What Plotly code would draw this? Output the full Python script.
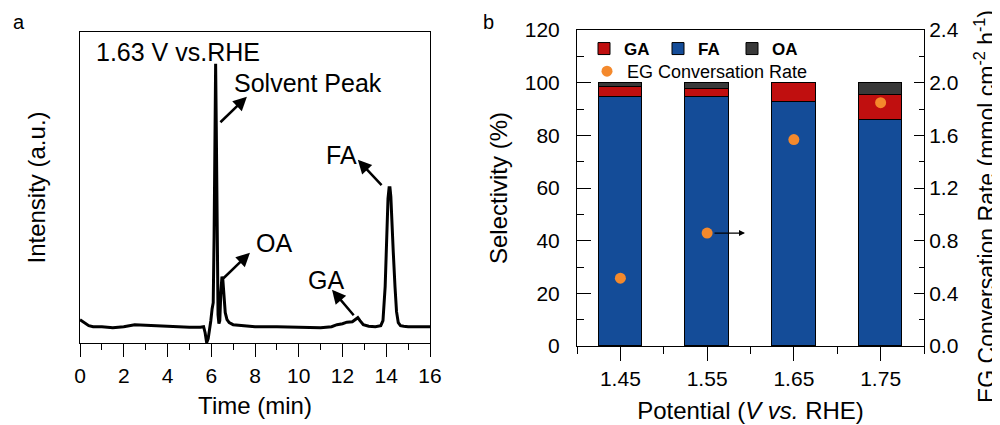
import plotly.graph_objects as go

# ---------------- Panel a: chromatogram ----------------
time_min = [0.0, 0.2, 0.4, 0.6, 1.0, 1.5, 2.0, 2.5, 3.0, 3.5, 4.0, 4.5, 5.0, 5.5, 5.65,
            5.72, 5.79, 5.86, 5.93, 5.98, 6.04, 6.09, 6.13, 6.17, 6.2, 6.23, 6.27, 6.31,
            6.35, 6.39, 6.44, 6.49, 6.53, 6.58, 6.64, 6.72, 6.82, 7.0, 7.5, 8.0, 9.0,
            10.0, 10.5, 11.0, 11.5, 11.75, 12.0, 12.2, 12.45, 12.6, 12.7, 12.8, 12.95,
            13.2, 13.5, 13.75, 13.85, 13.95, 14.02, 14.08, 14.13, 14.17, 14.21, 14.26,
            14.32, 14.4, 14.47, 14.55, 14.65, 14.8, 15.0, 16.0]
intensity = [7, 4, 1, 0, 0, -1, 0, 2, 1.5, 0.5, 0, -0.5, -0.5, -0.5, 0,
             -6, -16, -12, -3, 6, 18, 24, 90, 210, 263, 200, 90, 12,
             3, 6, 35, 50, 47, 30, 14, 7, 4, 2, 1, 0, 0,
             -0.5, -1, -1, 0, 2, 3, 4.5, 5, 8, 9, 6, 2,
             0.5, 0, 1, 6, 40, 95, 128, 139, 139, 130, 110,
             75, 40, 15, 4, 1, 0.5, 0, 0]

# ---------------- Panel b: selectivity / conversion ----------------
potential = [1.45, 1.55, 1.65, 1.75]
potential_labels = ["1.45", "1.55", "1.65", "1.75"]
fa_sel = [94.5, 94.5, 92.8, 85.9]
ga_sel = [3.9, 3.1, 6.9, 9.3]
oa_sel = [1.6, 2.4, 0.3, 4.8]
eg_rate = [0.515, 0.858, 1.568, 1.848]

FONT = "Arial, Liberation Sans, sans-serif"
BLUE = "#144C98"
RED = "#C00F0F"
DARK = "#393939"
ORANGE = "#F4892C"

# the page body adds an 8px offset; build the figure so that it lands on the 1000x425 window
OFF = 8
W, H = 1000 - OFF, 425 - OFF


def fx(px):
    return (px - OFF) / W


def fy(py):
    return 1 - (py - OFF) / H


fig = go.Figure()

fig.add_trace(go.Scatter(x=time_min, y=intensity, mode="lines",
                         line=dict(color="black", width=3), showlegend=False,
                         xaxis="x", yaxis="y"))

fig.add_trace(go.Bar(x=potential, y=fa_sel, name="<b>FA</b>", marker=dict(color=BLUE, line=dict(color="black", width=1)),
                     width=0.05, xaxis="x2", yaxis="y2", legend="legend", legendrank=2))
fig.add_trace(go.Bar(x=potential, y=ga_sel, name="<b>GA</b>", marker=dict(color=RED, line=dict(color="black", width=1)),
                     width=0.05, xaxis="x2", yaxis="y2", legend="legend", legendrank=1))
fig.add_trace(go.Bar(x=potential, y=oa_sel, name="<b>OA</b>", marker=dict(color=DARK, line=dict(color="black", width=1)),
                     width=0.05, xaxis="x2", yaxis="y2", legend="legend", legendrank=3))
fig.add_trace(go.Scatter(x=potential, y=eg_rate, mode="markers", name="EG Conversation Rate",
                         marker=dict(color=ORANGE, size=11), xaxis="x2", yaxis="y3", legend="legend2"))

axis_common = dict(showgrid=False, zeroline=False, linecolor="black", linewidth=1, automargin=False,
                   tickfont=dict(family=FONT, size=21, color="black"), tickcolor="black")

fig.update_layout(
    width=W, height=H,
    margin=dict(l=0, r=0, t=0, b=0, autoexpand=False),
    paper_bgcolor="white", plot_bgcolor="white",
    barmode="stack", bargap=0,
    font=dict(family=FONT, color="black"),
    xaxis=dict(domain=[fx(80), fx(430)], range=[0, 16], dtick=2, ticks="outside", ticklen=13,
               tickwidth=1, showline=True, mirror=True, anchor="y",
               minor=dict(dtick=1, ticks="outside", ticklen=6, tickcolor="black"),
               title=dict(text="Time (min)", font=dict(family=FONT, size=24), standoff=11),
               **axis_common),
    yaxis=dict(domain=[fy(343.3), fy(31.7)], range=[-16.6, 295], showticklabels=False,
               ticks="", showline=True, mirror=True, anchor="x",
               title=dict(text="Intensity (a.u.)", font=dict(family=FONT, size=24), standoff=26),
               **axis_common),
    xaxis2=dict(domain=[fx(577), fx(924)], range=[1.40, 1.80], tickmode="array", tickvals=potential,
                ticktext=potential_labels, ticks="outside", ticklen=14, tickwidth=1,
                showline=True, mirror=True, anchor="y2",
                minor=dict(tickmode="linear", tick0=1.40, dtick=0.1, ticks="outside", ticklen=7, tickcolor="black"),
                title=dict(text="Potential (<i>V vs.</i> RHE)", font=dict(family=FONT, size=24), standoff=12),
                **axis_common),
    yaxis2=dict(domain=[fy(346), fy(30)], range=[0, 120], dtick=20, ticks="inside",
                ticklen=14, tickwidth=1, showline=True, anchor="x2", ticklabelstandoff=12,
                minor=dict(dtick=10, ticks="inside", ticklen=7, tickcolor="black"),
                title=dict(text="Selectivity (%)", font=dict(family=FONT, size=24), standoff=10),
                **axis_common),
    yaxis3=dict(range=[0, 2.4], dtick=0.4, tickformat=".1f", ticks="inside", ticklen=10, tickwidth=1,
                showline=True, overlaying="y2", side="right", anchor="x2", ticklabelstandoff=0,
                minor=dict(dtick=0.2, ticks="inside", ticklen=5, tickcolor="black"),
                **axis_common),
    legend=dict(orientation="h", x=fx(584), y=fy(31), xanchor="left", yanchor="top",
                font=dict(family=FONT, size=17, color="black"), bgcolor="rgba(0,0,0,0)",
                itemwidth=30, tracegroupgap=0, traceorder="normal",
                entrywidth=29, entrywidthmode="pixels"),
    legend2=dict(orientation="h", x=fx(587), y=fy(53), xanchor="left", yanchor="top",
                 font=dict(family=FONT, size=18, color="black"), bgcolor="rgba(0,0,0,0)"),
)

ann_font = dict(family=FONT, size=25, color="black")
annotations = [
    dict(text="a", xref="paper", yref="paper", x=fx(11), y=fy(22), showarrow=False,
         xanchor="left", yanchor="middle", font=dict(family=FONT, size=20, color="black")),
    dict(text="b", xref="paper", yref="paper", x=fx(481), y=fy(22), showarrow=False,
         xanchor="left", yanchor="middle", font=dict(family=FONT, size=20, color="black")),
    dict(text="EG Conversation Rate (mmol cm<sup>-2</sup> h<sup>-1</sup>)", xref="paper", yref="paper",
         x=fx(985), y=fy(207), textangle=-90, showarrow=False, xanchor="center", yanchor="middle",
         font=dict(family=FONT, size=23, color="black")),
    dict(text="1.63 V vs.RHE", xref="paper", yref="paper", x=fx(94), y=fy(52), showarrow=False,
         xanchor="left", yanchor="middle", font=ann_font),
    dict(text="Solvent Peak", xref="x", yref="y", x=6.95, y=244, showarrow=False,
         xanchor="left", yanchor="middle", font=ann_font),
    dict(text="OA", xref="x", yref="y", x=7.95, y=84, showarrow=False,
         xanchor="left", yanchor="middle", font=ann_font),
    dict(text="GA", xref="x", yref="y", x=10.35, y=47, showarrow=False,
         xanchor="left", yanchor="middle", font=ann_font),
    dict(text="FA", xref="x", yref="y", x=11.15, y=172, showarrow=False,
         xanchor="left", yanchor="middle", font=ann_font),
]
arrow_style = dict(text="", showarrow=True, arrowhead=2, arrowsize=1.1, arrowwidth=2.5,
                   arrowcolor="black", xref="x", yref="y", axref="x", ayref="y",
                   standoff=0, startstandoff=0)
for tail, head in [((6.35, 203), (7.63, 230)), ((6.49, 47), (7.77, 74)),
                   ((12.57, 10), (11.52, 37)), ((13.85, 140), (12.7, 167))]:
    annotations.append(dict(ax=tail[0], ay=tail[1], x=head[0], y=head[1], **arrow_style))
annotations.append(dict(text="", showarrow=True, arrowhead=2, arrowsize=1, arrowwidth=1.2,
                        arrowcolor="black", xref="x2", yref="y3", axref="x2", ayref="y3",
                        ax=1.5568, ay=eg_rate[1], x=1.5937, y=eg_rate[1]))
fig.update_layout(annotations=annotations)

fig.write_html("out.html")
